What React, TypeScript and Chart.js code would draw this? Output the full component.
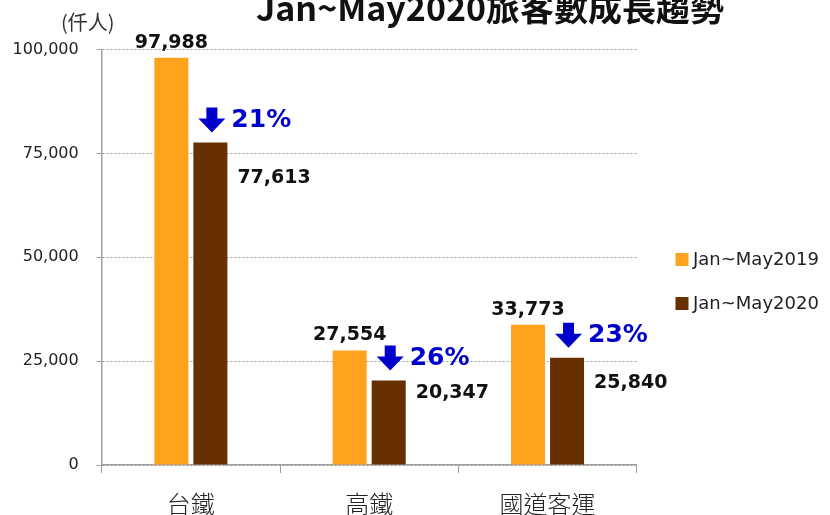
import React, { useEffect, useRef } from 'react';
import { Chart, registerables } from 'chart.js';

Chart.register(...registerables);

const categories = ['台鐵', '高鐵', '國道客運'];
const seriesNames = ['Jan~May2019', 'Jan~May2020'];
const values2019 = [97988, 27554, 33773];
const values2020 = [77613, 20347, 25840];
const yTickValues = [0, 25000, 50000, 75000, 100000];
const chartTitle = 'Jan~May2020旅客數成長趨勢';
const unitLabel = '(仟人)';

const COLORS = ['#FFA31F', '#663000'];
const BLUE = '#0000CC';
// vertical offsets of the 2020 value labels relative to bar tops (style only)
const label2020Dy = [36, 13, 25];

const fmt = (v: number) => v.toLocaleString('en-US');

const decorPlugin = {
  id: 'decor',
  afterDatasetsDraw(chart: any) {
    const ctx = chart.ctx;
    const m0 = chart.getDatasetMeta(0).data;
    const m1 = chart.getDatasetMeta(1).data;
    ctx.save();
    for (let i = 0; i < categories.length; i++) {
      const b0 = m0[i];
      const b1 = m1[i];
      ctx.font = 'bold 19px "DejaVu Sans"';
      ctx.fillStyle = '#111';
      ctx.textAlign = 'center';
      ctx.textBaseline = 'middle';
      ctx.fillText(fmt(values2019[i]), b0.x, b0.y - 15);
      ctx.textAlign = 'left';
      ctx.fillText(fmt(values2020[i]), b1.x + b1.width / 2 + 10, b1.y + label2020Dy[i]);
      const ax = b1.x + 1.5;
      const tip = b1.y - 10;
      const h = 25;
      const top = tip - h;
      const hw = 13.5;
      const sw = 5.5;
      const headTop = tip - 14;
      ctx.fillStyle = BLUE;
      ctx.beginPath();
      ctx.moveTo(ax - sw, top);
      ctx.lineTo(ax + sw, top);
      ctx.lineTo(ax + sw, headTop);
      ctx.lineTo(ax + hw, headTop);
      ctx.lineTo(ax, tip);
      ctx.lineTo(ax - hw, headTop);
      ctx.lineTo(ax - sw, headTop);
      ctx.closePath();
      ctx.fill();
      const pct = Math.round(((values2019[i] - values2020[i]) / values2019[i]) * 100);
      ctx.font = 'bold 25px "DejaVu Sans"';
      ctx.textAlign = 'left';
      ctx.textBaseline = 'middle';
      ctx.fillText(pct + '%', ax + hw + 6, top + h / 2 + 0.5);
    }
    ctx.restore();
  },
  afterDraw(chart: any) {
    const ctx = chart.ctx;
    ctx.save();
    ctx.font = 'bold 34px "Noto Sans CJK TC"';
    ctx.fillStyle = '#111';
    ctx.textAlign = 'center';
    ctx.textBaseline = 'alphabetic';
    ctx.fillText(chartTitle, 490, 21);
    ctx.font = '20px "Noto Sans CJK TC"';
    ctx.fillStyle = '#333';
    ctx.textAlign = 'left';
    ctx.textBaseline = 'middle';
    ctx.fillText(unitLabel, 61, 22);
    const ly = [259.5, 303.5];
    ctx.font = '18px "DejaVu Sans"';
    for (let i = 0; i < seriesNames.length; i++) {
      ctx.fillStyle = COLORS[i];
      ctx.fillRect(675.5, ly[i] - 6.5, 13, 13);
      ctx.fillStyle = '#222';
      ctx.fillText(seriesNames[i], 693, ly[i] + 1);
    }
    ctx.restore();
  },
};

export default function App() {
  const ref = useRef<HTMLCanvasElement>(null);
  useEffect(() => {
    if (!ref.current) return;
    const chart = new Chart(ref.current, {
      type: 'bar',
      data: {
        labels: categories,
        datasets: [
          { label: seriesNames[0], data: values2019, backgroundColor: COLORS[0], borderWidth: 0 },
          { label: seriesNames[1], data: values2020, backgroundColor: COLORS[1], borderWidth: 0 },
        ],
      },
      options: {
        animation: false,
        responsive: false,
        layout: { padding: { top: 49.5, right: 193.3, bottom: 0, left: 0 } },
        plugins: { legend: { display: false }, tooltip: { enabled: false }, title: { display: false } },
        datasets: { bar: { categoryPercentage: 0.4375, barPercentage: 0.872 } },
        scales: {
          x: {
            grid: {
              display: true,
              drawOnChartArea: false,
              drawTicks: true,
              tickLength: 8,
              tickColor: '#a0a0a0',
              offset: true,
            },
            border: { display: true, color: '#a0a0a0', width: 1.5 },
            ticks: {
              font: { family: '"Noto Sans CJK TC"', size: 24, weight: '300' },
              color: '#222',
              padding: 16,
            },
            afterFit: (s: any) => {
              s.height = 50;
            },
          },
          y: {
            min: 0,
            max: 100000,
            afterBuildTicks: (s: any) => {
              s.ticks = yTickValues.map((v) => ({ value: v }));
            },
            grid: {
              color: '#9a9a9a',
              lineWidth: 1,
              drawTicks: true,
              tickLength: 5,
              tickColor: '#a0a0a0',
            },
            border: { display: true, color: '#a0a0a0', width: 1.5, dash: [2, 2] },
            ticks: {
              font: { family: '"DejaVu Sans"', size: 16 },
              color: '#222',
              padding: 18,
              callback: (v: any) => fmt(Number(v)),
            },
            afterFit: (s: any) => {
              s.width = 101.7;
            },
          },
        },
      },
      plugins: [decorPlugin],
    });
    return () => chart.destroy();
  }, []);
  return (
    <div style={{ position: 'absolute', left: 0, top: 0, width: 830, height: 515 }}>
      <canvas ref={ref} width={830} height={515} style={{ display: 'block' }} />
    </div>
  );
}
